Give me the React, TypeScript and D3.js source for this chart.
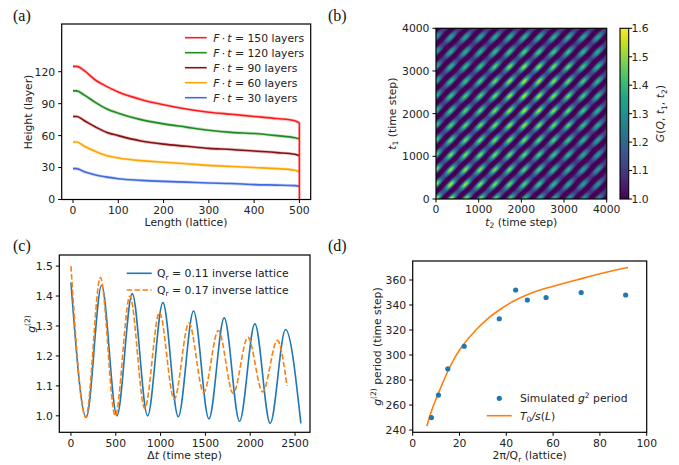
import React, { useMemo } from "react";
import * as d3 from "d3";

// ---------------- Data ----------------
// Panel (a): interface height profiles
const lengthA = [0, 8, 25, 50, 75, 100, 150, 200, 250, 300, 350, 400, 450, 490, 500];
const h150 = [125, 125, 121, 112, 106, 101, 94, 89, 85, 82, 80, 78, 76, 74, 72];
const h120 = [102, 102, 98, 91, 85, 81, 75, 71, 68, 65, 63, 62, 60, 58, 57];
const h90 = [78, 78, 74, 68, 63, 60, 55, 52, 50, 48, 47, 45.5, 44, 42.5, 41];
const h60 = [54, 54, 50, 45, 41, 39, 36.5, 35, 33.5, 32, 31, 30, 29, 27.5, 26];
const h30 = [29, 29, 26, 23, 21, 19.5, 18, 17, 16.3, 15.5, 15, 14, 13.5, 13, 12.5];
const seriesLabelsA = ["150", "120", "90", "60", "30"];
const seriesColorsA = ["#ff1a1a", "#1e8c1e", "#8b1010", "#ffa500", "#4169e1"];
const xTicksA = [0, 100, 200, 300, 400, 500];
const yTicksA = [0, 30, 60, 90, 120];

// Panel (b): two-time correlation map
const heatPeriod = 345; // oscillation period (time steps)
const heatGridT = [0, 1000, 2000, 3000, 4000];
// envelope of the oscillation contrast, rows = t1, cols = t2
const heatEnv = [
  [1.3, 1.15, 1.0, 0.8, 0.65],
  [1.1, 1.1, 1.05, 0.9, 0.7],
  [0.95, 1.05, 1.2, 1.1, 0.8],
  [0.85, 0.95, 1.2, 1.1, 0.85],
  [0.75, 0.75, 0.8, 0.8, 0.75],
];
const ticksB = [0, 1000, 2000, 3000, 4000];
const cbarTicks = [1.0, 1.1, 1.2, 1.3, 1.4, 1.5, 1.6];

// Panel (c): g2 vs delay (extrema of the oscillations)
const dtBlue = [0, 171, 342, 513, 684, 855, 1026, 1197, 1368, 1539, 1710, 1881, 2052, 2223, 2394, 2565];
const g2Blue = [1.445, 0.995, 1.435, 1.0, 1.408, 1.0, 1.378, 0.997, 1.35, 0.99, 1.327, 0.982, 1.307, 0.975, 1.288, 0.975];
const dtOrange = [0, 165, 329, 494, 658, 823, 987, 1152, 1316, 1481, 1645, 1810, 1974, 2139, 2303, 2410];
const g2Orange = [1.5, 0.995, 1.462, 1.0, 1.4, 1.025, 1.345, 1.055, 1.31, 1.078, 1.285, 1.075, 1.262, 1.08, 1.252, 1.1];
const xTicksC = [0, 500, 1000, 1500, 2000, 2500];
const yTicksC = [1.0, 1.1, 1.2, 1.3, 1.4, 1.5];

// Panel (d): period vs wavelength
const lenD = [8, 11, 15, 22, 37, 44, 49, 57, 72, 91];
const periodD = [250, 268, 289, 307, 329, 352, 344, 346, 350, 348];
const fitL = [6, 8, 10, 12, 15, 18, 22, 27, 32, 37, 44, 50, 60, 70, 80, 92];
const fitT = [243, 255, 265, 274, 287, 298, 309, 320, 329, 336, 344, 349, 355, 360, 365, 370];
const xTicksD = [0, 20, 40, 60, 80, 100];
const yTicksD = [240, 260, 280, 300, 320, 340, 360];

// ---------------- Style ----------------
const FONT = "DejaVu Sans, sans-serif";
const FS = 10.8;
const SERIF = "Liberation Serif, Times New Roman, serif";
const TICK = 3.5;
const BLUE = "#1f77b4";
const ORANGE = "#ff7f0e";

type Sc = d3.ScaleLinear<number, number>;

function Frame({ x, y }: { x: Sc; y: Sc }) {
  const [x0, x1] = x.range();
  const [y0, y1] = y.range();
  return (
    <rect
      x={Math.min(x0, x1)}
      y={Math.min(y0, y1)}
      width={Math.abs(x1 - x0)}
      height={Math.abs(y1 - y0)}
      fill="none"
      stroke="#000"
      strokeWidth={1.2}
    />
  );
}

function XTicks({ x, y, ticks, fmt }: { x: Sc; y: Sc; ticks: number[]; fmt?: (v: number) => string }) {
  const yb = y.range()[0];
  return (
    <g>
      {ticks.map((t) => (
        <g key={t}>
          <line x1={x(t)} x2={x(t)} y1={yb} y2={yb + TICK} stroke="#000" strokeWidth={1} />
          <text x={x(t)} y={yb + 14.2} textAnchor="middle" fontFamily={FONT} fontSize={FS} fill="#222">
            {fmt ? fmt(t) : String(t)}
          </text>
        </g>
      ))}
    </g>
  );
}

function YTicks({ x, y, ticks, fmt }: { x: Sc; y: Sc; ticks: number[]; fmt?: (v: number) => string }) {
  const xl = x.range()[0];
  return (
    <g>
      {ticks.map((t) => (
        <g key={t}>
          <line x1={xl - TICK} x2={xl} y1={y(t)} y2={y(t)} stroke="#000" strokeWidth={1} />
          <text x={xl - 6.5} y={y(t) + 3.9} textAnchor="end" fontFamily={FONT} fontSize={FS} fill="#222">
            {fmt ? fmt(t) : String(t)}
          </text>
        </g>
      ))}
    </g>
  );
}

function PanelLabel({ x, y, s }: { x: number; y: number; s: string }) {
  return (
    <text x={x} y={y} fontFamily={SERIF} fontSize={16} fill="#111">
      {s}
    </text>
  );
}

// ---------------- Panels ----------------
function PanelA() {
  const x = d3.scaleLinear().domain([-25, 525]).range([61.7, 310.7]);
  const y = d3.scaleLinear().domain([0, 164.8]).range([199.5, 24]);
  const series = [h150, h120, h90, h60, h30];
  const line = d3
    .line<[number, number]>()
    .x((d) => x(d[0]))
    .y((d) => y(d[1]))
    .curve(d3.curveMonotoneX);
  const straight = d3
    .line<[number, number]>()
    .x((d) => x(d[0]))
    .y((d) => y(d[1]));
  const order = [4, 3, 2, 1, 0];
  return (
    <g>
      {order.map((k) => {
        const pts = lengthA.map((l, i) => [l, series[k][i]] as [number, number]);
        const d = line(pts) || "";
        return (
          <g key={k}>
            <path d={d} fill="none" stroke={seriesColorsA[k]} strokeOpacity={0.25} strokeWidth={3.2} />
            <path d={d} fill="none" stroke={seriesColorsA[k]} strokeWidth={1.6} />
          </g>
        );
      })}
      <path
        d={straight([[lengthA[lengthA.length - 1], h150[h150.length - 1]], [lengthA[lengthA.length - 1], 0]]) || ""}
        fill="none"
        stroke={seriesColorsA[0]}
        strokeWidth={1.8}
      />
      <Frame x={x} y={y} />
      <XTicks x={x} y={y} ticks={xTicksA} />
      <YTicks x={x} y={y} ticks={yTicksA} />
      <text x={186} y={225.5} textAnchor="middle" fontFamily={FONT} fontSize={FS} fill="#222">
        Length (lattice)
      </text>
      <text transform="translate(31.5,112) rotate(-90)" textAnchor="middle" fontFamily={FONT} fontSize={FS} fill="#222">
        Height (layer)
      </text>
      {seriesLabelsA.map((lab, i) => {
        const yy = 37.7 + i * 15;
        return (
          <g key={lab}>
            <line x1={185} x2={206.7} y1={yy} y2={yy} stroke={seriesColorsA[i]} strokeWidth={1.6} />
            <text x={213.3} y={yy + 3.9} fontFamily={FONT} fontSize={FS} fill="#222">
              <tspan fontStyle="italic">F</tspan>
              <tspan>{"\u2009·\u2009"}</tspan>
              <tspan fontStyle="italic">t</tspan>
              <tspan>{` = ${lab} layers`}</tspan>
            </text>
          </g>
        );
      })}
    </g>
  );
}

function envAt(t1: number, t2: number) {
  const step = heatGridT[1] - heatGridT[0];
  const fi = Math.min(Math.max(t1 / step, 0), heatGridT.length - 1.0001);
  const fj = Math.min(Math.max(t2 / step, 0), heatGridT.length - 1.0001);
  const i = Math.floor(fi), j = Math.floor(fj);
  const a = fi - i, b = fj - j;
  const e = heatEnv;
  return (
    e[i][j] * (1 - a) * (1 - b) +
    e[i + 1][j] * a * (1 - b) +
    e[i][j + 1] * (1 - a) * b +
    e[i + 1][j + 1] * a * b
  );
}

function PanelB() {
  const x = d3.scaleLinear().domain([0, 4000]).range([436, 606.7]);
  const y = d3.scaleLinear().domain([0, 4000]).range([199, 28.3]);
  const cb = d3.scaleLinear().domain([1.0, 1.6]).range([199, 28.3]);
  const color = (v: number) => d3.interpolateViridis(Math.max(0, Math.min(1, (v - 1.0) / 0.6)));
  const url = useMemo(() => {
    const N = 256;
    const canvas = document.createElement("canvas");
    canvas.width = N;
    canvas.height = N;
    const ctx = canvas.getContext("2d");
    if (!ctx) return "";
    const img = ctx.createImageData(N, N);
    const w = (2 * Math.PI) / heatPeriod;
    for (let r = 0; r < N; r++) {
      const t1 = (1 - (r + 0.5) / N) * 4000;
      for (let c = 0; c < N; c++) {
        const t2 = ((c + 0.5) / N) * 4000;
        const S = Math.cos(w * (t1 - t2));
        const L = Math.cos(w * t1) + Math.cos(w * t2);
        const env = envAt(t1, t2);
        const g = 1 + env * (0.1 + 0.2 * S + 0.08 * L * (1 + S) / 2);
        const col = d3.rgb(color(g));
        const k = (r * N + c) * 4;
        img.data[k] = col.r;
        img.data[k + 1] = col.g;
        img.data[k + 2] = col.b;
        img.data[k + 3] = 255;
      }
    }
    ctx.putImageData(img, 0, 0);
    return canvas.toDataURL();
  }, []);
  const stops = d3.range(0, 11).map((i) => i / 10);
  return (
    <g>
      <image href={url} x={436} y={28.3} width={170.7} height={170.7} preserveAspectRatio="none" />
      <Frame x={x} y={y} />
      <XTicks x={x} y={y} ticks={ticksB} />
      <YTicks x={x} y={y} ticks={ticksB} />
      <text x={521.3} y={225.5} textAnchor="middle" fontFamily={FONT} fontSize={FS} fill="#222">
        <tspan fontStyle="italic">t</tspan>
        <tspan fontSize={FS * 0.7} dy={2.5}>2</tspan>
        <tspan dy={-2.5}> (time step)</tspan>
      </text>
      <text transform="translate(395.5,113.6) rotate(-90)" textAnchor="middle" fontFamily={FONT} fontSize={FS} fill="#222">
        <tspan fontStyle="italic">t</tspan>
        <tspan fontSize={FS * 0.7} dy={2.5}>1</tspan>
        <tspan dy={-2.5}> (time step)</tspan>
      </text>
      <defs>
        <linearGradient id="viridisBar" x1="0" y1="1" x2="0" y2="0">
          {stops.map((s) => (
            <stop key={s} offset={s} stopColor={d3.interpolateViridis(s)} />
          ))}
        </linearGradient>
      </defs>
      <rect x={620} y={28.3} width={8.7} height={170.7} fill="url(#viridisBar)" stroke="#000" strokeWidth={1.1} />
      {cbarTicks.map((t) => (
        <g key={t}>
          <line x1={628.7} x2={628.7 + TICK} y1={cb(t)} y2={cb(t)} stroke="#000" strokeWidth={1} />
          <text x={631.5} y={cb(t) + 3.9} fontFamily={FONT} fontSize={FS} fill="#222">
            {t.toFixed(1)}
          </text>
        </g>
      ))}
      <text transform="translate(664,113.6) rotate(-90)" textAnchor="middle" fontFamily={FONT} fontSize={FS} fill="#222">
        <tspan fontStyle="italic">G</tspan>
        <tspan>(</tspan>
        <tspan fontStyle="italic">Q</tspan>
        <tspan>, </tspan>
        <tspan fontStyle="italic">t</tspan>
        <tspan fontSize={FS * 0.7} dy={2.5}>1</tspan>
        <tspan dy={-2.5}>, </tspan>
        <tspan fontStyle="italic">t</tspan>
        <tspan fontSize={FS * 0.7} dy={2.5}>2</tspan>
        <tspan dy={-2.5}>)</tspan>
      </text>
    </g>
  );
}

function PanelC() {
  const x = d3.scaleLinear().domain([-130, 2667]).range([59.3, 310]);
  const y = d3.scaleLinear().domain([0.945, 1.537]).range([432.3, 255]);
  const line = d3
    .line<[number, number]>()
    .x((d) => x(d[0]))
    .y((d) => y(d[1]))
    .curve(d3.curveMonotoneX);
  const blue = line(dtBlue.map((t, i) => [t, g2Blue[i]] as [number, number])) || "";
  const orange = line(dtOrange.map((t, i) => [t, g2Orange[i]] as [number, number])) || "";
  return (
    <g>
      <path d={blue} fill="none" stroke={BLUE} strokeWidth={1.6} />
      <path d={orange} fill="none" stroke={ORANGE} strokeWidth={1.6} strokeDasharray="5.5,2.4" />
      <Frame x={x} y={y} />
      <XTicks x={x} y={y} ticks={xTicksC} />
      <YTicks x={x} y={y} ticks={yTicksC} fmt={(v) => v.toFixed(1)} />
      <text x={184.6} y={459} textAnchor="middle" fontFamily={FONT} fontSize={FS} fill="#222">
        <tspan>Δ</tspan>
        <tspan fontStyle="italic">t</tspan>
        <tspan> (time step)</tspan>
      </text>
      <text transform="translate(35,324) rotate(-90)" textAnchor="middle" fontFamily={FONT} fontSize={FS} fill="#222">
        <tspan fontStyle="italic">g</tspan>
        <tspan fontSize={FS * 0.7} dy={-5}>(2)</tspan>
      </text>
      {[
        { lab: "0.11", col: BLUE, dash: undefined as string | undefined, yy: 273.3 },
        { lab: "0.17", col: ORANGE, dash: "5.5,2.4", yy: 290 },
      ].map((e) => (
        <g key={e.lab}>
          <line x1={126.7} x2={151.7} y1={e.yy} y2={e.yy} stroke={e.col} strokeWidth={1.6} strokeDasharray={e.dash} />
          <text x={157} y={e.yy + 3.9} fontFamily={FONT} fontSize={FS} fill="#222">
            <tspan>Q</tspan>
            <tspan fontSize={FS * 0.7} dy={2.5}>r</tspan>
            <tspan dy={-2.5}>{` = ${e.lab} inverse lattice`}</tspan>
          </text>
        </g>
      ))}
    </g>
  );
}

function PanelD() {
  const x = d3.scaleLinear().domain([0, 100]).range([412.7, 646.7]);
  const y = d3.scaleLinear().domain([238.2, 375.2]).range([432.3, 261]);
  const line = d3
    .line<[number, number]>()
    .x((d) => x(d[0]))
    .y((d) => y(d[1]))
    .curve(d3.curveMonotoneX);
  const fit = line(fitL.map((l, i) => [l, fitT[i]] as [number, number])) || "";
  return (
    <g>
      <path d={fit} fill="none" stroke={ORANGE} strokeWidth={1.6} />
      {lenD.map((l, i) => (
        <circle key={i} cx={x(l)} cy={y(periodD[i])} r={2.6} fill={BLUE} />
      ))}
      <Frame x={x} y={y} />
      <XTicks x={x} y={y} ticks={xTicksD} />
      <YTicks x={x} y={y} ticks={yTicksD} />
      <text x={529.7} y={459} textAnchor="middle" fontFamily={FONT} fontSize={FS} fill="#222">
        <tspan>2π/Q</tspan>
        <tspan fontSize={FS * 0.7} dy={2.5}>r</tspan>
        <tspan dy={-2.5}> (lattice)</tspan>
      </text>
      <text transform="translate(380.5,346.6) rotate(-90)" textAnchor="middle" fontFamily={FONT} fontSize={FS} fill="#222">
        <tspan fontStyle="italic">g</tspan>
        <tspan fontSize={FS * 0.7} dy={-5}>(2)</tspan>
        <tspan dy={5}> period (time step)</tspan>
      </text>
      <circle cx={499.3} cy={398.3} r={2.6} fill={BLUE} />
      <text x={520} y={402.2} fontFamily={FONT} fontSize={FS} fill="#222">
        <tspan>Simulated </tspan>
        <tspan fontStyle="italic">g</tspan>
        <tspan fontSize={FS * 0.7} dy={-4.5}>2</tspan>
        <tspan dy={4.5}> period</tspan>
      </text>
      <line x1={486.7} x2={511.7} y1={415.7} y2={415.7} stroke={ORANGE} strokeWidth={1.6} />
      <text x={520} y={419.6} fontFamily={FONT} fontSize={FS} fill="#222">
        <tspan fontStyle="italic">T</tspan>
        <tspan fontSize={FS * 0.7} dy={2.5}>0</tspan>
        <tspan dy={-2.5} fontStyle="italic">/s</tspan>
        <tspan>(</tspan>
        <tspan fontStyle="italic">L</tspan>
        <tspan>)</tspan>
      </text>
    </g>
  );
}

export default function App() {
  return (
    <svg width={679} height={465} viewBox="0 0 679 465" style={{ display: "block", position: "absolute", left: 0, top: 0, background: "#fff" }}>
      <rect x={0} y={0} width={679} height={465} fill="#fff" />
      <PanelA />
      <PanelB />
      <PanelC />
      <PanelD />
      <PanelLabel x={13} y={21} s="(a)" />
      <PanelLabel x={328} y={21} s="(b)" />
      <PanelLabel x={13} y={251} s="(c)" />
      <PanelLabel x={328} y={251} s="(d)" />
    </svg>
  );
}
